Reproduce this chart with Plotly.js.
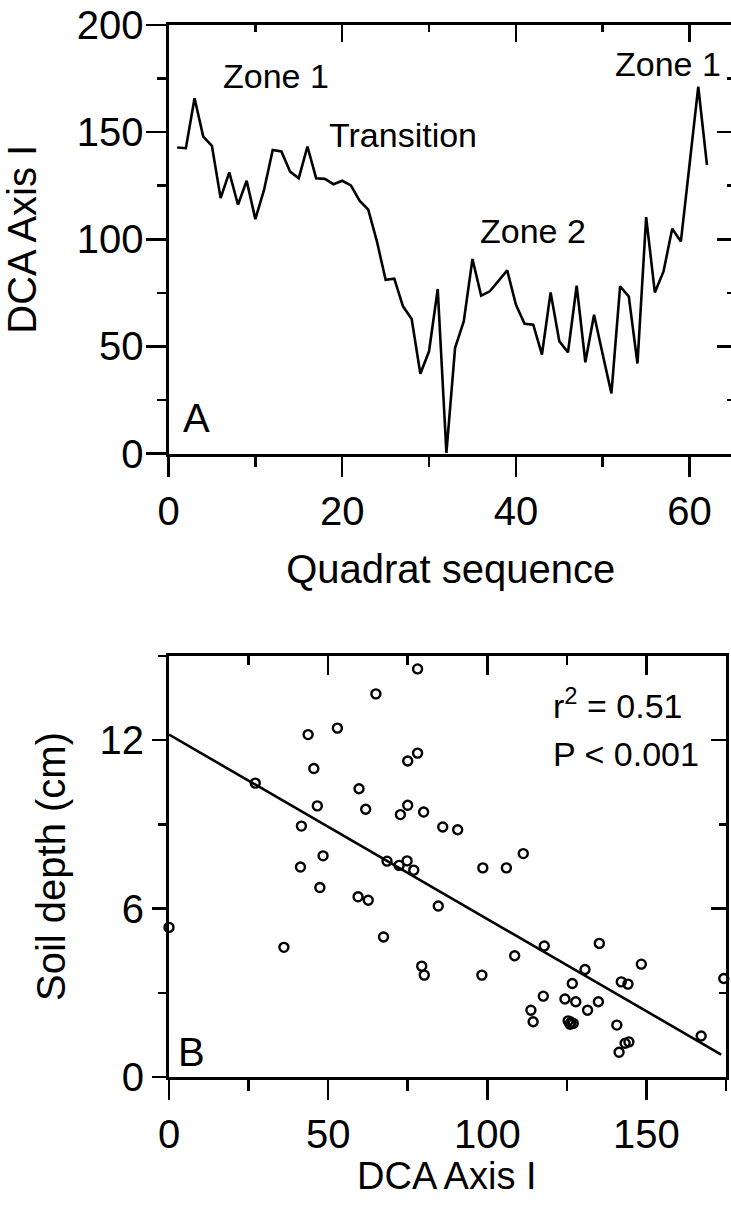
<!DOCTYPE html>
<html>
<head>
<meta charset="utf-8">
<script src="https://cdn.plot.ly/plotly-3.0.1.min.js"></script>
<style>
  html, body { margin: 0; padding: 0; background: #fff; overflow: hidden; }
  #chart { width: 736px; height: 1207px; }
</style>
</head>
<body>
<div id="chart"></div>
<script>
// ---------- Panel A data: DCA Axis I along the quadrat sequence ----------
const quadrat = [1,2,3,4,5,6,7,8,9,10,11,12,13,14,15,16,17,18,19,20,
  21,22,23,24,25,26,27,28,29,30,31,32,33,34,35,36,37,38,39,40,
  41,42,43,44,45,46,47,48,49,50,51,52,53,54,55,56,57,58,59,60,61,62];
const dcaAxis1 = [142.8,142.5,165.8,147.9,143.6,119.2,131.2,116.1,127.3,109.4,
  123,141.7,141,131.6,128.5,143.3,128.5,128.2,125.7,127.3,
  125.1,118,113.8,99,81.1,81.6,68.7,62.8,37.2,47.7,
  76.8,0.3,49.3,61.7,90.8,73.7,75.7,80.7,85.5,69.5,
  60.5,60.1,46.2,75.2,52.4,47.2,78.3,42.6,64.8,46.2,
  28,78,73.3,42,110.3,75.2,85,104.9,99,135,171.2,134.7];

// ---------- Panel B data: soil depth vs DCA Axis I ----------
const scatterDCA = [78.1,65.0,52.9,43.7,78.1,75.0,45.5,27.1,59.7,46.6,
  61.8,75.0,72.7,80.0,41.6,86.0,48.4,68.5,72.3,74.8,
  76.9,41.3,47.4,59.4,62.6,84.6,0,36.1,67.4,79.4,
  80.2,90.7,98.6,106.0,111.3,108.6,98.3,117.9,135.2,148.4,
  130.7,126.7,142.1,144.2,117.6,124.4,127.8,134.9,131.5,113.7,
  114.4,125.4,126.0,127.0,126.3,140.7,141.4,143.3,144.5,167.2,174.3];
const soilDepth = [14.54,13.65,12.43,12.2,11.54,11.26,10.99,10.47,10.27,9.66,
  9.54,9.68,9.35,9.44,8.94,8.91,7.88,7.69,7.54,7.7,
  7.37,7.48,6.75,6.42,6.3,6.09,5.33,4.62,4.99,3.95,
  3.63,8.81,7.45,7.45,7.96,4.32,3.63,4.67,4.76,4.02,
  3.83,3.33,3.39,3.31,2.88,2.78,2.68,2.68,2.38,2.38,
  1.97,2.0,1.88,1.91,1.95,1.85,0.88,1.2,1.25,1.46,3.51];
// regression line end points
const fitDCA = [0, 173.5];
const fitDepth = [12.2, 0.8];

// ---------- text ----------
const titleA_x = 'Quadrat sequence';
const titleA_y = 'DCA Axis I';
const titleB_x = 'DCA Axis I';
const titleB_y = 'Soil depth (cm)';

// ---------- layout helpers (pixel -> paper) ----------
const W = 736, H = 1207;
const px = v => v / W;
const py = v => 1 - v / H;
const FONT = 'Liberation Sans, Arial, sans-serif';
const K = '#000';

function baseAxis(extra) {
  return Object.assign({
    showgrid: false, zeroline: false, showline: true, linecolor: K, linewidth: 3,
    ticks: 'outside', tickcolor: K, tickwidth: 2.5, ticklen: 20,
    tickfont: { family: FONT, size: 40, color: K },
    fixedrange: true, tick0: 0
  }, extra);
}

const traces = [
  { x: quadrat, y: dcaAxis1, xaxis: 'x', yaxis: 'y', type: 'scatter', mode: 'lines',
    line: { color: K, width: 2.6 }, hoverinfo: 'skip' },
  { x: fitDCA, y: fitDepth, xaxis: 'x2', yaxis: 'y2', type: 'scatter', mode: 'lines',
    line: { color: K, width: 2.6 }, hoverinfo: 'skip' },
  { x: scatterDCA, y: soilDepth, xaxis: 'x2', yaxis: 'y2', type: 'scatter', mode: 'markers',
    marker: { symbol: 'circle-open', size: 9, color: K, line: { color: K, width: 2.4 } },
    cliponaxis: false, hoverinfo: 'skip' },
  // empty traces so the mirrored frame axes (top / right) are drawn
  { x: [], y: [], xaxis: 'x3', yaxis: 'y', type: 'scatter', mode: 'lines', hoverinfo: 'skip' },
  { x: [], y: [], xaxis: 'x', yaxis: 'y3', type: 'scatter', mode: 'lines', hoverinfo: 'skip' },
  { x: [], y: [], xaxis: 'x4', yaxis: 'y2', type: 'scatter', mode: 'lines', hoverinfo: 'skip' },
  { x: [], y: [], xaxis: 'x2', yaxis: 'y4', type: 'scatter', mode: 'lines', hoverinfo: 'skip' }
];

const domAx = [px(168.5), px(733)];
const domAy = [py(453.5), py(25)];
const domBx = [px(169), px(726)];
const domBy = [py(1077), py(656)];

const layout = {
  width: W, height: H,
  margin: { l: 0, r: 0, t: 0, b: 0, pad: 0 },
  paper_bgcolor: '#fff', plot_bgcolor: '#fff',
  showlegend: false,
  font: { family: FONT, color: K },
  // Panel A
  xaxis: baseAxis({ domain: domAx, anchor: 'y', range: [0, 65], dtick: 20,
    minor: { dtick: 10, ticks: 'outside', ticklen: 10, tickwidth: 2.5, tickcolor: K },
    title: { text: titleA_x, font: { family: FONT, size: 40, color: K }, standoff: 24 } }),
  yaxis: baseAxis({ domain: domAy, anchor: 'x', range: [0, 200], dtick: 50,
    ticklabelstandoff: -6,
    minor: { dtick: 25, ticks: 'outside', ticklen: 9, tickwidth: 2.5, tickcolor: K },
    title: { text: titleA_y, font: { family: FONT, size: 40, color: K }, standoff: 46 } }),
  xaxis3: baseAxis({ overlaying: 'x', anchor: 'y', side: 'top', range: [0, 65], dtick: 20,
    ticks: 'inside', ticklen: 17, showticklabels: false,
    minor: { dtick: 10, ticks: 'inside', ticklen: 7, tickwidth: 2.5, tickcolor: K } }),
  yaxis3: baseAxis({ overlaying: 'y', anchor: 'x', side: 'right', range: [0, 200], dtick: 50,
    ticks: 'inside', ticklen: 16, showticklabels: false,
    minor: { dtick: 25, ticks: 'inside', ticklen: 6, tickwidth: 2.5, tickcolor: K } }),
  // Panel B
  xaxis2: baseAxis({ domain: domBx, anchor: 'y2', range: [0, 175], dtick: 50,
    minor: { dtick: 25, ticks: 'outside', ticklen: 11, tickwidth: 2.5, tickcolor: K } }),
  yaxis2: baseAxis({ domain: domBy, anchor: 'x2', range: [0, 15], dtick: 6, ticklen: 14,
    minor: { dtick: 3, ticks: 'outside', ticklen: 8, tickwidth: 2.5, tickcolor: K },
    title: { text: titleB_y, font: { family: FONT, size: 40, color: K }, standoff: 22 } }),
  xaxis4: baseAxis({ overlaying: 'x2', anchor: 'y2', side: 'top', range: [0, 175], dtick: 50,
    ticks: 'inside', ticklen: 19, showticklabels: false,
    minor: { dtick: 25, ticks: 'inside', ticklen: 9, tickwidth: 2.5, tickcolor: K } }),
  yaxis4: baseAxis({ overlaying: 'y2', anchor: 'x2', side: 'right', range: [0, 15], dtick: 6,
    ticks: 'inside', ticklen: 15, showticklabels: false,
    minor: { dtick: 3, ticks: 'inside', ticklen: 7, tickwidth: 2.5, tickcolor: K } }),
  annotations: [
    { text: 'Zone 1', x: px(276), y: py(76), size: 34 },
    { text: 'Transition', x: px(403), y: py(135), size: 34 },
    { text: 'Zone 2', x: px(532.5), y: py(231), size: 34 },
    { text: 'Zone 1', x: px(667.5), y: py(64), size: 34 },
    { text: 'A', x: px(196), y: py(418), size: 40 },
    { text: 'B', x: px(191.5), y: py(1052), size: 40 },
    { text: 'r<sup>2</sup> = 0.51', x: px(551), y: py(703), size: 34, left: true },
    { text: 'P &lt; 0.001', x: px(551), y: py(754), size: 34, left: true },
    { text: titleB_x, x: px(447), y: py(1176), size: 38 }
  ].map(a => ({
    text: a.text, x: a.x, y: a.y, xref: 'paper', yref: 'paper',
    xanchor: a.left ? 'left' : 'center', yanchor: 'middle', showarrow: false,
    font: { family: FONT, size: a.size, color: K }
  }))
};

Plotly.newPlot('chart', traces, layout, { staticPlot: true, displayModeBar: false });
</script>
</body>
</html>
